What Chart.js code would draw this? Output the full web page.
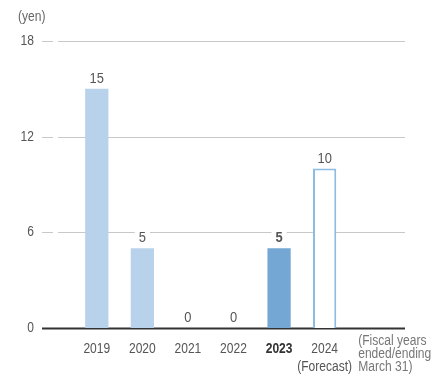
<!DOCTYPE html>
<html>
<head>
<meta charset="utf-8">
<script src="https://cdn.jsdelivr.net/npm/chart.js@4"></script>
<style>
  html, body { margin: 0; padding: 0; background: #fff; }
</style>
</head>
<body>
<canvas id="myChart" width="442" height="374"></canvas>
<script>
var years = ["2019", "2020", "2021", "2022", "2023", "2024", ""];
var dividends = [15, 5, 0, 0, 5, 10, null];
var yTicks = [0, 6, 12, 18];
var yUnit = "(yen)";
var forecastNote = "(Forecast)";
var fiscalNote = ["(Fiscal years", "ended/ending", "March 31)"];

var FONT = '"Liberation Sans", Arial, sans-serif';
var NARROW = 0.86;

var fills = ["#b7d2ea", "#b7d2ea", "#b7d2ea", "#b7d2ea", "#74a7d3", "#ffffff", "#ffffff"];
var borders = ["#b7d2ea", "#b7d2ea", "#b7d2ea", "#b7d2ea", "#74a7d3", "#8cbce3", "#ffffff"];

// draw horizontally squeezed text to mimic a narrow face
function narrowText(ctx, text, x, y) {
  ctx.save();
  ctx.translate(x, y);
  ctx.scale(NARROW, 1);
  ctx.fillText(text, 0, 0);
  ctx.restore();
}

var decor = {
  id: "decor",
  beforeDatasetsDraw: function (chart) {
    var ctx = chart.ctx;
    var y = chart.scales.y;
    var area = chart.chartArea;
    ctx.save();
    yTicks.forEach(function (v) {
      var py = Math.round(y.getPixelForValue(v)) + 0.5;
      ctx.strokeStyle = v === 0 ? "#333333" : "#c8c8c8";
      ctx.lineWidth = v === 0 ? 2 : 1;
      ctx.beginPath();
      ctx.moveTo(area.left - 32, py);
      if (v !== 0) {
        ctx.lineTo(area.left - 21, py);
        ctx.moveTo(area.left - 16, py);
      }
      ctx.lineTo(area.right + 12, py);
      ctx.stroke();
      ctx.fillStyle = "#555";
      ctx.font = "14px " + FONT;
      ctx.textAlign = "right";
      ctx.textBaseline = "middle";
      narrowText(ctx, String(v), area.left - 40, py);
    });
    ctx.textAlign = "left";
    ctx.font = "14px " + FONT;
    ctx.fillStyle = "#666";
    narrowText(ctx, yUnit, 18, 17);
    ctx.restore();
  },
  afterDatasetsDraw: function (chart) {
    var ctx = chart.ctx;
    var meta = chart.getDatasetMeta(0);
    var x = chart.scales.x;
    var area = chart.chartArea;
    ctx.save();
    ctx.textAlign = "center";
    ctx.textBaseline = "alphabetic";
    meta.data.forEach(function (bar, i) {
      var v = dividends[i];
      if (v === null) return;
      var bold = years[i] === "2023";
      ctx.font = (bold ? "bold " : "") + "15px " + FONT;
      var label = String(v);
      var w = ctx.measureText(label).width * NARROW + 8;
      var base = bar.y - 6;
      ctx.fillStyle = "#fff";
      ctx.fillRect(bar.x - w / 2, base - 13, w, 15);
      ctx.fillStyle = "#555";
      narrowText(ctx, label, bar.x, base);
    });
    years.forEach(function (lab, i) {
      if (!lab) return;
      var px = x.getPixelForValue(i);
      ctx.font = (lab === "2023" ? "bold " : "") + "14px " + FONT;
      ctx.fillStyle = lab === "2023" ? "#333" : "#555";
      narrowText(ctx, lab, px, area.bottom + 25);
    });
    ctx.font = "14px " + FONT;
    ctx.fillStyle = "#555";
    narrowText(ctx, forecastNote, x.getPixelForValue(5), area.bottom + 43);
    ctx.textAlign = "left";
    ctx.fillStyle = "#777";
    ctx.font = "14px " + FONT;
    var fx = x.getPixelForValue(6) - 12;
    fiscalNote.forEach(function (line, j) {
      narrowText(ctx, line, fx, area.bottom + 17 + j * 13);
    });
    ctx.restore();
  }
};

var ctx = document.getElementById("myChart").getContext("2d");
var chart = new Chart(ctx, {
  type: "bar",
  data: {
    labels: years,
    datasets: [
      {
        data: dividends,
        backgroundColor: fills,
        borderColor: borders,
        borderWidth: [0, 0, 0, 0, 0, 2, 0],
        borderSkipped: "bottom",
        categoryPercentage: 1,
        barPercentage: 0.51
      }
    ]
  },
  options: {
    responsive: false,
    animation: false,
    layout: { padding: { left: 74, right: 49, top: 41, bottom: 46 } },
    plugins: { legend: { display: false }, tooltip: { enabled: false } },
    scales: {
      x: { display: false },
      y: { display: false, min: 0, max: 18 }
    }
  },
  plugins: [decor]
});
</script>
</body>
</html>
